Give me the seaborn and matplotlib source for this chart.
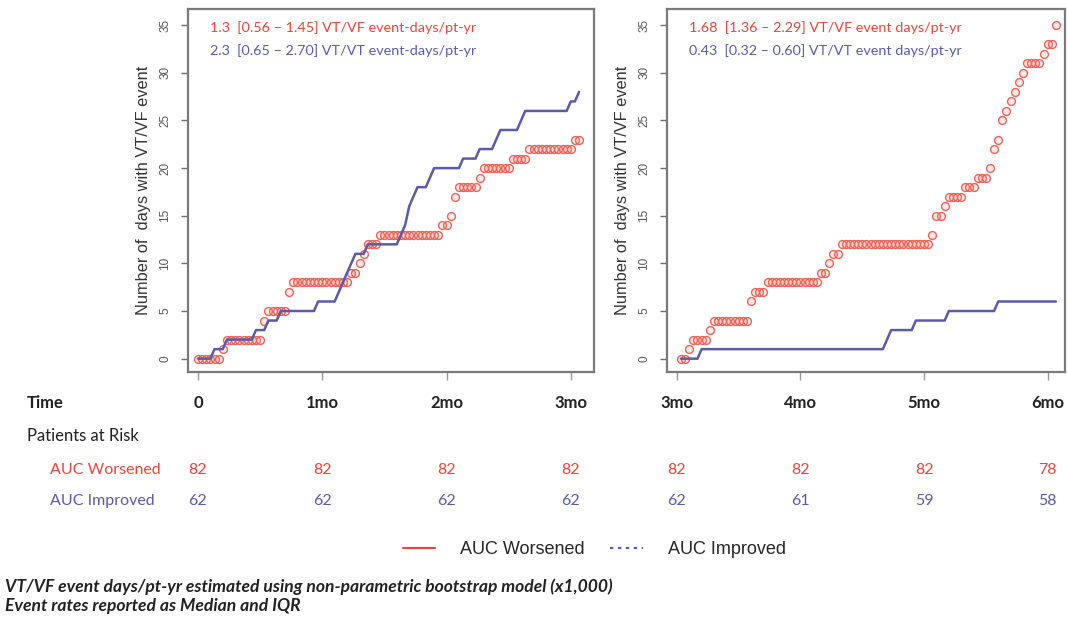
import seaborn as sns
import matplotlib
matplotlib.use("Agg")
from matplotlib import pyplot as plt
from matplotlib import transforms
from matplotlib.lines import Line2D

# days from start of follow-up (one reading per day)
days_first = list(range(0, 93))
days_second = list(range(91, 183))

# cumulative number of days with VT/VF event, 0 -> 3 months
worsened_first = [0, 0, 0, 0, 0, 0, 1, 2, 2, 2, 2, 2, 2, 2, 2, 2, 4, 5, 5, 5, 5, 5, 7,
                  8, 8, 8, 8, 8, 8, 8, 8, 8, 8, 8, 8, 8, 8, 9, 9, 10, 11, 12, 12, 12,
                  13, 13, 13, 13, 13, 13, 13, 13, 13, 13, 13, 13, 13, 13, 13, 14, 14, 15, 17,
                  18, 18, 18, 18, 18, 19, 20, 20, 20, 20, 20, 20, 20, 21, 21, 21, 21,
                  22, 22, 22, 22, 22, 22, 22, 22, 22, 22, 22, 23, 23]
improved_first = [0, 0, 0, 0, 1, 1, 1, 2, 2, 2, 2, 2, 2, 2, 3, 3, 3, 4, 4, 4,
                  5, 5, 5, 5, 5, 5, 5, 5, 5, 6, 6, 6, 6, 6, 7, 8, 9, 10, 11, 11, 11,
                  12, 12, 12, 12, 12, 12, 12, 12, 13, 14, 16, 17, 18, 18, 18, 19,
                  20, 20, 20, 20, 20, 20, 20, 21, 21, 21, 21, 22, 22, 22, 22, 23,
                  24, 24, 24, 24, 24, 25, 26, 26, 26, 26, 26, 26, 26, 26, 26, 26, 26,
                  27, 27, 28]

# 3 -> 6 months
worsened_second = [0, 0, 1, 2, 2, 2, 2, 3, 4, 4, 4, 4, 4, 4, 4, 4, 4,
                   6, 7, 7, 7, 8, 8, 8, 8, 8, 8, 8, 8, 8, 8, 8, 8, 8,
                   9, 9, 10, 11, 11,
                   12, 12, 12, 12, 12, 12, 12, 12, 12, 12,
                   12, 12, 12, 12, 12, 12, 12, 12, 12, 12,
                   12, 12,
                   13, 15, 15, 16, 17, 17, 17, 17, 18, 18, 18, 19, 19, 19,
                   20, 22, 23, 25, 26, 27, 28, 29, 30, 31, 31, 31, 31, 32, 33, 33, 35]
improved_second = [0, 0, 0, 0, 0,
                   1, 1, 1, 1, 1, 1, 1, 1, 1, 1,
                   1, 1, 1, 1, 1, 1, 1, 1, 1, 1,
                   1, 1, 1, 1, 1, 1, 1, 1, 1, 1,
                   1, 1, 1, 1, 1, 1, 1, 1, 1, 1,
                   1, 1, 1, 1, 1,
                   2, 3, 3, 3, 3, 3, 3,
                   4, 4, 4, 4, 4, 4, 4, 4,
                   5, 5, 5, 5, 5, 5, 5, 5, 5, 5, 5, 5,
                   6, 6, 6, 6, 6, 6, 6, 6, 6, 6, 6, 6, 6, 6, 6]

tick_days_first = [0, 30, 60, 90]
tick_days_second = [90, 120, 150, 180]
time_labels_first = ["0", "1mo", "2mo", "3mo"]
time_labels_second = ["3mo", "4mo", "5mo", "6mo"]
at_risk_worsened = [82, 82, 82, 82, 82, 82, 82, 78]
at_risk_improved = [62, 62, 62, 62, 62, 61, 59, 58]

rates_first = ["1.3  [0.56 \u2013 1.45] VT/VF event-days/pt-yr",
               "2.3  [0.65 \u2013 2.70] VT/VT event-days/pt-yr"]
rates_second = ["1.68  [1.36 \u2013 2.29] VT/VF event days/pt-yr",
                "0.43  [0.32 \u2013 0.60] VT/VT event days/pt-yr"]

RED = "#e8453c"
RED_PT = "#ee6258"
BLUE = "#5b5ba8"
GREY = "#6e6e6e"
TABLE_FONT = ["Lato", "DejaVu Sans"]

sns.set_theme(style="white")
plt.rcParams["font.family"] = ["Liberation Sans", "DejaVu Sans"]

fig = plt.figure(figsize=(10.67, 6.19), dpi=100)
ax1 = fig.add_axes([188 / 1067, 1 - 372 / 619, 406 / 1067, 363 / 619])
ax2 = fig.add_axes([667 / 1067, 1 - 372 / 619, 398 / 1067, 363 / 619])


def draw_panel(ax, days, worse, better, xlim, ticks, rates):
    sns.scatterplot(x=days, y=worse, ax=ax, marker="o", s=32, color=RED_PT,
                    facecolor=(0.96, 0.55, 0.5, 0.18), edgecolor=RED_PT, linewidth=1.0, zorder=2)
    sns.lineplot(x=days, y=better, ax=ax, color=BLUE, lw=1.8, estimator=None, zorder=3)
    ax.set_xlim(*xlim)
    ax.set_ylim(-1.4, 36.7)
    ax.set_yticks(range(0, 36, 5))
    ax.set_xticks(ticks)
    ax.set_xticklabels([])
    ax.set_xlabel("")
    ax.tick_params(axis="y", left=True, direction="out", length=5, width=1,
                   color=GREY, labelsize=8.5, labelcolor="#555555", pad=7)
    ax.tick_params(axis="x", bottom=True, direction="out", length=6, width=1, color="#999999")
    for lbl in ax.get_yticklabels():
        lbl.set_rotation(90)
        lbl.set_va("center")
    for sp in ax.spines.values():
        sp.set_color("#7a7a7a")
        sp.set_linewidth(1.6)
    ax.set_ylabel("Number of  days with VT/VF event", fontsize=11.8, color="#333333", labelpad=6)
    ax.text(0.055, 0.948, rates[0], transform=ax.transAxes, color=RED, fontsize=10.4,
            family=TABLE_FONT, va="center")
    ax.text(0.055, 0.887, rates[1], transform=ax.transAxes, color=BLUE, fontsize=10.4,
            family=TABLE_FONT, va="center")


draw_panel(ax1, days_first, worsened_first, improved_first, (-2.4, 95.6),
           tick_days_first, rates_first)
draw_panel(ax2, days_second, worsened_second, improved_second, (87.6, 184.2),
           tick_days_second, rates_second)

# number-at-risk table
row_time, row_risk, row_worse, row_better = 1 - 403 / 619, 1 - 436 / 619, 1 - 470 / 619, 1 - 501 / 619
fig.text(27 / 1067, row_time, "Time", fontsize=12, fontweight="bold", family=TABLE_FONT,
         color="#222222", va="center")
fig.text(27 / 1067, row_risk, "Patients at Risk", fontsize=12, family=TABLE_FONT,
         color="#222222", va="center")
fig.text(50 / 1067, row_worse, "AUC Worsened", fontsize=11.5, family=TABLE_FONT, color=RED, va="center")
fig.text(50 / 1067, row_better, "AUC Improved", fontsize=11.5, family=TABLE_FONT, color=BLUE, va="center")

panels = [(ax1, tick_days_first, time_labels_first, at_risk_worsened[:4], at_risk_improved[:4]),
          (ax2, tick_days_second, time_labels_second, at_risk_worsened[4:], at_risk_improved[4:])]
for ax, ticks, labels, worse, better in panels:
    trans = transforms.blended_transform_factory(ax.transData, fig.transFigure)
    for t, lab, w, b in zip(ticks, labels, worse, better):
        ax.text(t, row_time, lab, transform=trans, ha="center", va="center", fontsize=12,
                fontweight="bold", family=TABLE_FONT, color="#222222")
        ax.text(t, row_worse, str(w), transform=trans, ha="center", va="center", fontsize=11.5,
                family=TABLE_FONT, color=RED)
        ax.text(t, row_better, str(b), transform=trans, ha="center", va="center", fontsize=11.5,
                family=TABLE_FONT, color=BLUE)

handles = [Line2D([], [], color=RED, lw=1.5, label="AUC Worsened"),
           Line2D([], [], color=BLUE, lw=1.5, ls=(0, (1.6, 2.2)), label="AUC Improved")]
fig.legend(handles=handles, loc="center", bbox_to_anchor=(0.557, 1 - 550 / 619), ncol=2,
           frameon=False, fontsize=13, handlelength=1.8, handletextpad=1.4, columnspacing=1.4)

fig.text(5 / 1067, 1 - 587 / 619,
         "VT/VF event days/pt-yr estimated using non-parametric bootstrap model (x1,000)",
         fontsize=12.6, style="italic", fontweight="bold", family=TABLE_FONT,
         color="#222222", va="center")
fig.text(5 / 1067, 1 - 606 / 619, "Event rates reported as Median and IQR",
         fontsize=12.6, style="italic", fontweight="bold", family=TABLE_FONT,
         color="#222222", va="center")

fig.savefig("out.png", dpi=100, facecolor="white")
